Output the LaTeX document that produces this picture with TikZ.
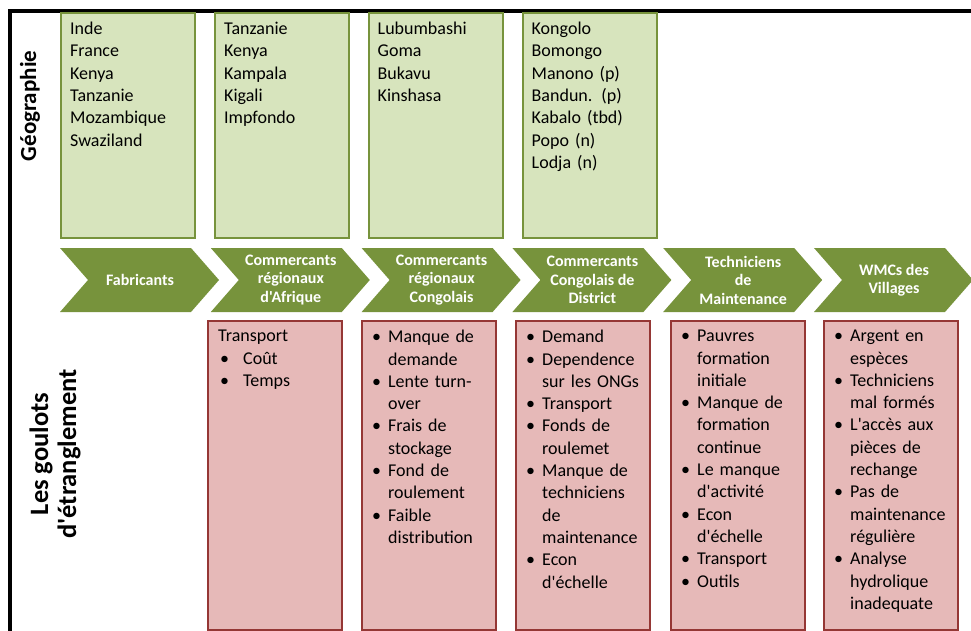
\documentclass[tikz,border=0pt]{standalone}
\usepackage{fontspec}
\setmainfont{Carlito}[Ligatures=TeXOff]
\usetikzlibrary{positioning}
\definecolor{vertclair}{HTML}{D7E4BD}
\definecolor{vertfonce}{HTML}{77933C}
\definecolor{rougeclair}{HTML}{E6B9B8}
\definecolor{rougefonce}{HTML}{953735}
\tikzset{font={\fontsize{18}{22.3}\selectfont}}
\newcommand{\puce}{\makebox[16pt][l]{\textbullet}}
\newcommand{\suite}{\hspace*{16pt}}

\begin{document}
\begin{tikzpicture}[x=1pt, y=-1pt]
	\tikzstyle{geobox}=[draw=vertfonce, fill=vertclair, line width=2pt, minimum width=134pt, minimum height=225pt, inner sep=0pt, outer sep=0pt]
	\tikzstyle{goulot}=[draw=rougefonce, fill=rougeclair, line width=2pt, minimum width=134pt, minimum height=309pt, inner sep=0pt, outer sep=0pt]
	\tikzstyle{liste}=[anchor=north west, align=left, inner sep=0pt, text width=130pt]
	\tikzstyle{etape}=[text=white, font={\bfseries\fontsize{16}{18.5}\selectfont}, align=center, inner sep=0pt]
	\tikzstyle{titre}=[rotate=90, font={\bfseries\fontsize{23}{28}\selectfont}, align=center, inner sep=0pt]

	\useasboundingbox (0,0) rectangle (971,631);
	\draw[line width=4pt] (10,631) -- (10,11) -- (971,11);

	% titres
	\node[titre] (geo) at (30,106) {Géographie};
	\node[titre, font={\bfseries\fontsize{26.5}{28}\selectfont}] (goul) at (55,454) {Les goulots\\d'étranglement};

	% geographie
	\node[geobox] (g1) at (128,125.5) {};
	\node[geobox] (g2) at (282,125.5) {};
	\node[geobox] (g3) at (435.5,125.5) {};
	\node[geobox] (g4) at (589.5,125.5) {};
	\node[liste, below right=9pt and 9pt of g1.north west] (lg1) {Inde\\France\\Kenya\\Tanzanie\\Mozambique\\Swaziland};
	\node[liste, below right=9pt and 9pt of g2.north west] (lg2) {Tanzanie\\Kenya\\Kampala\\Kigali\\Impfondo};
	\node[liste, below right=9pt and 9pt of g3.north west] (lg3) {Lubumbashi\\Goma\\Bukavu\\Kinshasa};
	\node[liste, below right=9pt and 9pt of g4.north west] (lg4) {Kongolo\\Bomongo\\Manono (p)\\Bandun. (p)\\Kabalo (tbd)\\Popo (n)\\Lodja (n)};

	% chaine
	\foreach \i in {0,...,5} {
		\fill[vertfonce] ({60+150.8*\i},248) -- ++(131,0) -- ++(28,32) -- ++(-28,32) -- ++(-131,0) -- ++(28,-32) -- cycle;
	}
	\node[etape] (fab) at (140,280) {Fabricants};
	\node[etape] (cra) at (290.8,280) {Commercants\\régionaux\\d'Afrique};
	\node[etape] (crc) at (441.6,280) {Commercants\\régionaux\\Congolais};
	\node[etape] (ccd) at (592.4,280) {Commercants\\Congolais de\\District};
	\node[etape] (tec) at (743.2,280) {Techniciens\\de\\Maintenance};
	\node[etape] (wmc) at (894,280) {WMCs des\\Villages};

	% goulots
	\node[goulot] (r1) at (275,475.5) {};
	\node[goulot] (r2) at (429,475.5) {};
	\node[goulot] (r3) at (583,475.5) {};
	\node[goulot] (r4) at (738,475.5) {};
	\node[goulot] (r5) at (891,475.5) {};
	\node[liste, below right=9pt and 10pt of r1.north west] (lr1) {Transport\\\makebox[25pt][l]{\hspace{2pt}\textbullet}Coût\\\makebox[25pt][l]{\hspace{2pt}\textbullet}Temps};
	\node[liste, below right=9pt and 10pt of r2.north west] (lr2) {\puce Manque de\\\suite demande\\\puce Lente turn-\\\suite over\\\puce Frais de\\\suite stockage\\\puce Fond de\\\suite roulement\\\puce Faible\\\suite distribution};
	\node[liste, below right=9pt and 10pt of r3.north west] (lr3) {\puce Demand\\\puce Dependence\\\suite sur les ONGs\\\puce Transport\\\puce Fonds de\\\suite roulemet\\\puce Manque de\\\suite techniciens\\\suite de\\\suite maintenance\\\puce Econ\\\suite d'échelle};
	\node[liste, below right=9pt and 10pt of r4.north west] (lr4) {\puce Pauvres\\\suite formation\\\suite initiale\\\puce Manque de\\\suite formation\\\suite continue\\\puce Le manque\\\suite d'activité\\\puce Econ\\\suite d'échelle\\\puce Transport\\\puce Outils};
	\node[liste, below right=9pt and 10pt of r5.north west] (lr5) {\puce Argent en\\\suite espèces\\\puce Techniciens\\\suite mal formés\\\puce L'accès aux\\\suite pièces de\\\suite rechange\\\puce Pas de\\\suite maintenance\\\suite régulière\\\puce Analyse\\\suite hydrolique\\\suite inadequate};
\end{tikzpicture}
\end{document}
